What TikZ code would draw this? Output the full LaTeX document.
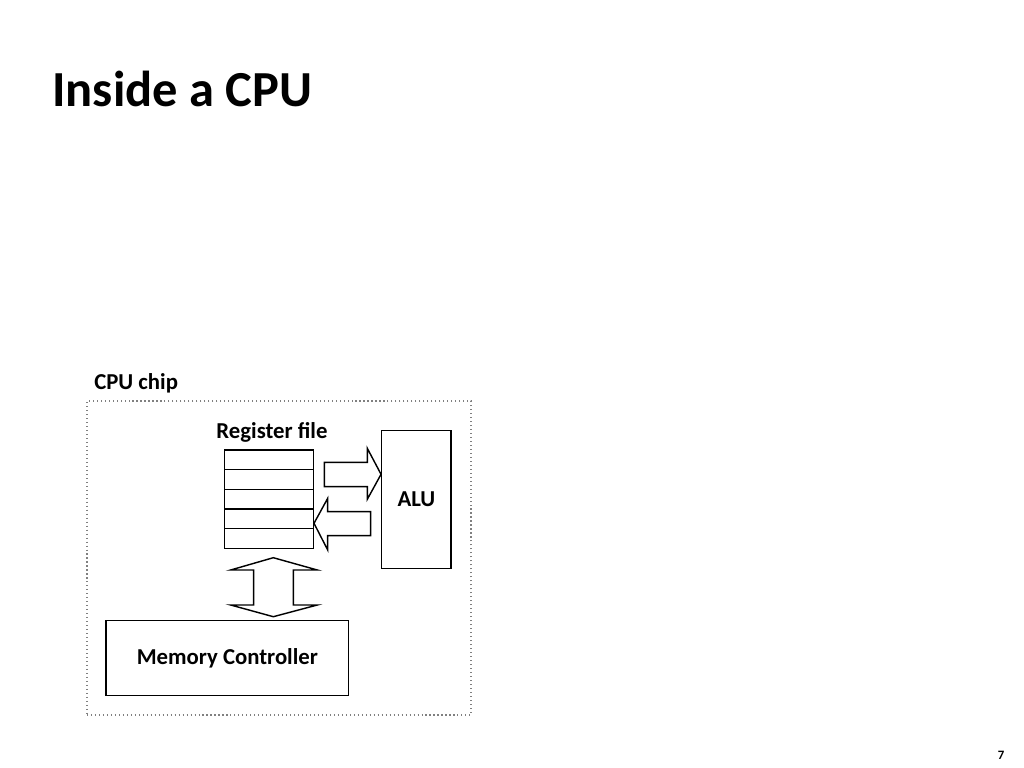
\documentclass[tikz,border=0pt]{standalone}
\usepackage{fontspec}
\setmainfont{Carlito}
\def\pxu{0.703125pt}
\tikzset{
  box/.style={draw, line width=1pt, inner sep=0pt},
  chipbox/.style={draw=gray, dotted, line width=0.8pt, inner sep=0pt},
  regrow/.style={box, minimum width=89*\pxu, minimum height=19.66*\pxu},
  blockarrow/.style={draw, line width=1pt, fill=white, line join=miter},
  lbl/.style={inner sep=0pt, font=\bfseries\fontsize{16}{19}\selectfont},
}
\begin{document}
\begin{tikzpicture}[x=\pxu, y=-\pxu]
\useasboundingbox (0,0) rectangle (1024,768);
\fill[white] (0,0) rectangle (1024,768);

\node[anchor=base west, inner sep=0pt, font=\bfseries\fontsize{35.5}{40}\selectfont] (title) at (52,106.7) {Inside a CPU};

\node[chipbox, minimum width=384*\pxu, minimum height=314*\pxu] (chip) at (279,558) {};
\node[lbl, anchor=base west] (chiplbl) at (94,389) {CPU chip};

\node[regrow] (r1) at (268.8,459.83) {};
\node[regrow] (r2) at (268.8,479.49) {};
\node[regrow] (r3) at (268.8,499.15) {};
\node[regrow] (r4) at (268.8,518.81) {};
\node[regrow] (r5) at (268.8,538.47) {};
\node[lbl, anchor=base] (reglbl) at (272,438.5) {Register file};

\node[box, minimum width=69.3*\pxu, minimum height=138*\pxu, font=\bfseries\fontsize{16}{19}\selectfont] (alu) at (416.4,499.3) {ALU};

\node[box, minimum width=242.7*\pxu, minimum height=75*\pxu, font=\bfseries\fontsize{16}{19}\selectfont] (mem) at (227.4,658.2) {Memory Controller};

% block arrows
\draw[blockarrow] (324.3,462.3) -- (367.3,462.3) -- (367.3,448.3) -- (alu.west |- 0,474.3) -- (367.3,499.3) -- (367.3,486.7) -- (324.3,486.7) -- cycle;
\draw[blockarrow] (r4.east |- 0,523.3) -- (327.7,498.3) -- (327.7,511.7) -- (370.7,511.7) -- (370.7,535.7) -- (327.7,535.7) -- (327.7,550) -- cycle;
\draw[blockarrow] (273.3,557.7) -- (317.3,570) -- (293.3,570) -- (293.3,605) -- (317.3,605) -- (273.3,616.7) -- (230.7,605) -- (253.7,605) -- (253.7,570) -- (230.7,570) -- cycle;

\node[anchor=base, inner sep=0pt, font=\bfseries\fontsize{9}{11}\selectfont] (pagenum) at (1001,759) {7};
\end{tikzpicture}
\end{document}
